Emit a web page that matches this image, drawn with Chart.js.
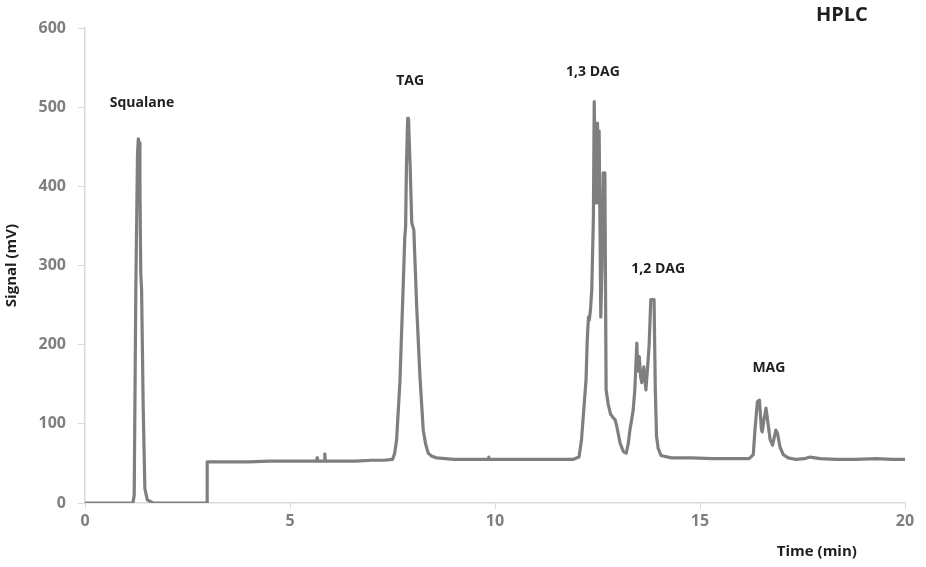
<!DOCTYPE html>
<html>
<head>
<meta charset="utf-8">
<script src="https://cdn.jsdelivr.net/npm/chart.js@4.4.1/dist/chart.umd.min.js"></script>
<style>
  html, body { margin: 0; padding: 0; background: #ffffff; }
  #wrap { width: 926px; height: 567px; position: relative; }
</style>
</head>
<body>
<div id="wrap"><canvas id="c" width="926" height="567"></canvas></div>
<script>
// Retention time (min) and detector signal (mV)
const timeMin = [
  0, 1.17, 1.20, 1.24, 1.28, 1.30, 1.32, 1.34, 1.36, 1.38, 1.42, 1.46, 1.52, 1.66,
  2.98, 2.98, 3.5, 4.0, 4.5, 5.0, 5.5, 5.65, 5.66, 5.67, 5.84, 5.85, 5.86, 6.2, 6.6, 7.0, 7.3, 7.50, 7.55,
  7.60, 7.68, 7.76, 7.80, 7.82, 7.84, 7.87, 7.89, 7.91, 7.93, 7.97, 8.02, 8.09, 8.17, 8.25, 8.31, 8.37, 8.46, 8.58,
  9.0, 9.5, 9.84, 9.85, 9.86, 10.2, 10.8, 11.4, 11.9, 12.05,
  12.11, 12.17, 12.22, 12.25, 12.28, 12.30, 12.33, 12.36, 12.40, 12.42, 12.46, 12.50, 12.52, 12.54,
  12.58, 12.61, 12.64, 12.68, 12.71, 12.76, 12.82, 12.88, 12.93, 12.97, 13.05, 13.13, 13.20,
  13.25, 13.29, 13.37, 13.41, 13.46, 13.48, 13.52, 13.55, 13.58, 13.63, 13.68, 13.72, 13.76,
  13.80, 13.88, 13.91, 13.94, 13.98, 14.05, 14.3, 14.8, 15.3, 15.8, 16.2,
  16.30, 16.34, 16.40, 16.45, 16.50, 16.52, 16.56, 16.61, 16.66, 16.71, 16.77, 16.82, 16.85, 16.89,
  16.95, 17.03, 17.15, 17.35, 17.55, 17.68, 17.93, 18.34, 18.8, 19.3, 19.7, 20.0
];
const signalMV = [
  0, 0, 10, 272, 440, 460, 455, 400, 290, 270, 120, 18, 4, 0,
  0, 52, 52, 52, 53, 53, 53, 53, 57, 53, 53, 62, 53, 53, 53, 54, 54, 55, 62,
  80, 152, 273, 336, 349, 425, 486, 486, 455, 425, 354, 345, 248, 159, 92, 74, 63, 59, 57,
  55, 55, 55, 58, 55, 55, 55, 55, 55, 58,
  80, 121, 155, 206, 235, 231, 245, 269, 361, 507, 379, 480, 379, 470,
  235, 300, 417, 417, 143, 125, 112, 108, 105, 97, 76, 65, 63,
  75, 92, 117, 143, 202, 167, 185, 160, 152, 172, 143, 170, 200,
  257, 257, 143, 84, 69, 60, 57, 57, 56, 56, 56,
  61, 92, 128, 130, 92, 90, 105, 120, 100, 80, 73, 85, 92, 88,
  71, 61, 57, 55, 56, 58, 56, 55, 55, 56, 55, 55
];
const xTicks = [0, 5, 10, 15, 20];
const yTicks = [0, 100, 200, 300, 400, 500, 600];
const peakNames = ["Squalane", "TAG", "1,3 DAG", "1,2 DAG", "MAG"];
const peakLabelTime = [1.39, 7.93, 12.39, 13.98, 16.68];
const peakLabelSignal = [505, 533, 544, 296, 170];
const chartTitle = "HPLC";
const xTitle = "Time (min)";
const yTitle = "Signal (mV)";

const points = timeMin.map((t, i) => ({ x: t, y: signalMV[i] }));

const labelsPlugin = {
  id: 'labels',
  afterDraw(chart) {
    const ctx = chart.ctx;
    const xs = chart.scales.x, ys = chart.scales.y;
    ctx.save();
    ctx.fillStyle = '#1f1f1f';
    ctx.textAlign = 'center';
    ctx.textBaseline = 'middle';
    ctx.font = 'bold 14px "Open Sans"';
    peakNames.forEach((n, i) => {
      ctx.fillText(n, xs.getPixelForValue(peakLabelTime[i]), ys.getPixelForValue(peakLabelSignal[i]));
    });
    ctx.font = 'bold 20px "Open Sans"';
    ctx.fillText(chartTitle, xs.getPixelForValue(18.46), 15);
    ctx.font = 'bold 15px "Open Sans"';
    ctx.fillText(xTitle, xs.getPixelForValue(17.85), 552);
    ctx.translate(12, ys.getPixelForValue(300));
    ctx.rotate(-Math.PI / 2);
    ctx.fillText(yTitle, 0, 0);
    ctx.restore();
  }
};

new Chart(document.getElementById('c'), {
  type: 'scatter',
  data: {
    datasets: [{
      data: points,
      showLine: true,
      borderColor: '#7f7f7f',
      borderWidth: 3.2,
      borderJoinStyle: 'round',
      borderCapStyle: 'round',
      pointRadius: 0,
      tension: 0,
      fill: false
    }]
  },
  options: {
    responsive: false,
    animation: false,
    layout: { padding: { left: 0, right: 21, top: 28, bottom: 0 } },
    plugins: { legend: { display: false }, tooltip: { enabled: false } },
    scales: {
      x: {
        type: 'linear', min: 0, max: 20,
        afterBuildTicks: s => { s.ticks = xTicks.map(v => ({ value: v })); },
        afterFit: s => { s.height = 64; },
        border: { color: '#d9d9d9', width: 1.5 },
        grid: { drawOnChartArea: false, drawTicks: true, tickLength: 6, color: '#d9d9d9' },
        ticks: { color: '#7f7f7f', font: { family: 'Open Sans', size: 16, weight: 'bold' }, padding: 3, maxRotation: 0 }
      },
      y: {
        type: 'linear', min: 0, max: 600,
        afterBuildTicks: s => { s.ticks = yTicks.map(v => ({ value: v })); },
        afterFit: s => { s.width = 85; },
        border: { color: '#d9d9d9', width: 1.5 },
        grid: { drawOnChartArea: false, drawTicks: true, tickLength: 7, color: '#d9d9d9' },
        ticks: { color: '#7f7f7f', font: { family: 'Open Sans', size: 16, weight: 'bold' }, padding: 12 }
      }
    }
  },
  plugins: [labelsPlugin]
});
</script>
</body>
</html>
